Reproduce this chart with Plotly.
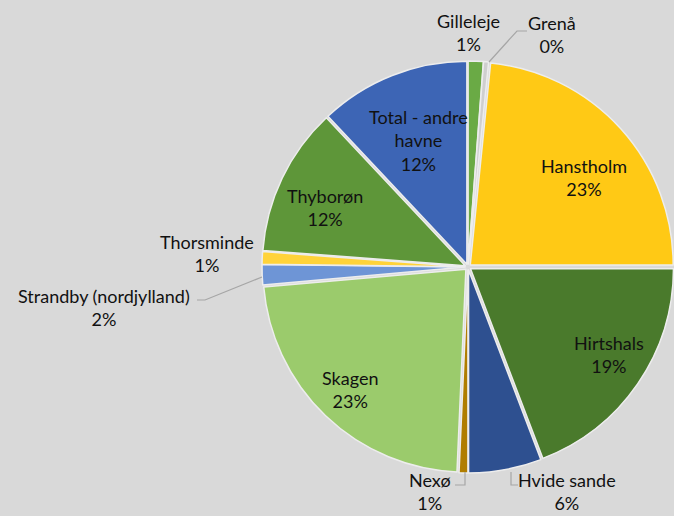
import plotly.graph_objects as go

W, H = 674, 516

labels = ["Gilleleje", "Grenå", "Hanstholm", "Hirtshals", "Hvide sande", "Nexø",
          "Skagen", "Strandby (nordjylland)", "Thorsminde", "Thyborøn", "Total - andre havne"]
values = [1.2, 0.4, 23.4, 19.2, 5.8, 0.7, 22.9, 1.6, 1.0, 11.8, 12.0]
pct_labels = ["1%", "0%", "23%", "19%", "6%", "1%", "23%", "2%", "1%", "12%", "12%"]
colors = ["#6AAA45", "#CFCFCF", "#FFC915", "#4A7A2C", "#2E5090", "#B07D00",
          "#9BCB6C", "#6E95D6", "#FFD33A", "#5E9639", "#3D65B5"]
label_names = {"Total - andre havne": "Total - andre<br>havne"}


def px(x):
    return x / W


def py(y):
    return 1 - y / H


FONT = dict(family="Lato", size=18, color="#111111")

fig = go.Figure(go.Pie(
    labels=labels,
    values=values,
    sort=False,
    direction="clockwise",
    rotation=0,
    marker=dict(colors=colors, line=dict(color="#EDEDED", width=1.5)),
    pull=[0.015] * len(values),
    textinfo="none",
    hoverinfo="label+percent",
    domain=dict(x=[px(262), px(674)], y=[py(476), py(58)]),
    showlegend=False,
))

# label text centre positions in pixels
label_pos = {
    "Gilleleje": (468, 32),
    "Grenå": (552, 34),
    "Hanstholm": (584, 178),
    "Hirtshals": (609, 354),
    "Skagen": (350, 389),
    "Thyborøn": (325, 207),
    "Total - andre havne": (418, 140),
    "Thorsminde": (207, 253),
    "Strandby (nordjylland)": (104, 307),
    "Nexø": (430, 491),
    "Hvide sande": (567, 491),
}
annotations = []
for name, p in zip(labels, pct_labels):
    x, y = label_pos[name]
    annotations.append(dict(
        x=px(x), y=py(y), xref="paper", yref="paper",
        text=f"{label_names.get(name, name)}<br>{p}", showarrow=False,
        font=FONT,
        xanchor="center", yanchor="middle", align="center",
    ))

leader_lines = [
    [(489, 62), (517, 31), (527, 31)],
    [(262, 277), (205, 300), (197, 300)],
    [(465, 472), (465, 485), (455, 485)],
    [(511, 472), (511, 485), (518, 485)],
]
shapes = []
for pts in leader_lines:
    path = "M " + " L ".join(f"{px(x)},{py(y)}" for x, y in pts)
    shapes.append(dict(type="path", xref="paper", yref="paper", path=path,
                       line=dict(color="#A6A6A6", width=1.2)))

fig.update_layout(
    width=W, height=H,
    margin=dict(l=0, r=0, t=0, b=0),
    paper_bgcolor="#D9D9D9",
    plot_bgcolor="#D9D9D9",
    annotations=annotations,
    shapes=shapes,
    font=dict(family="Lato"),
)

fig.write_html("out.html", config={"displayModeBar": False},
               post_script="document.body.style.margin='0';")
